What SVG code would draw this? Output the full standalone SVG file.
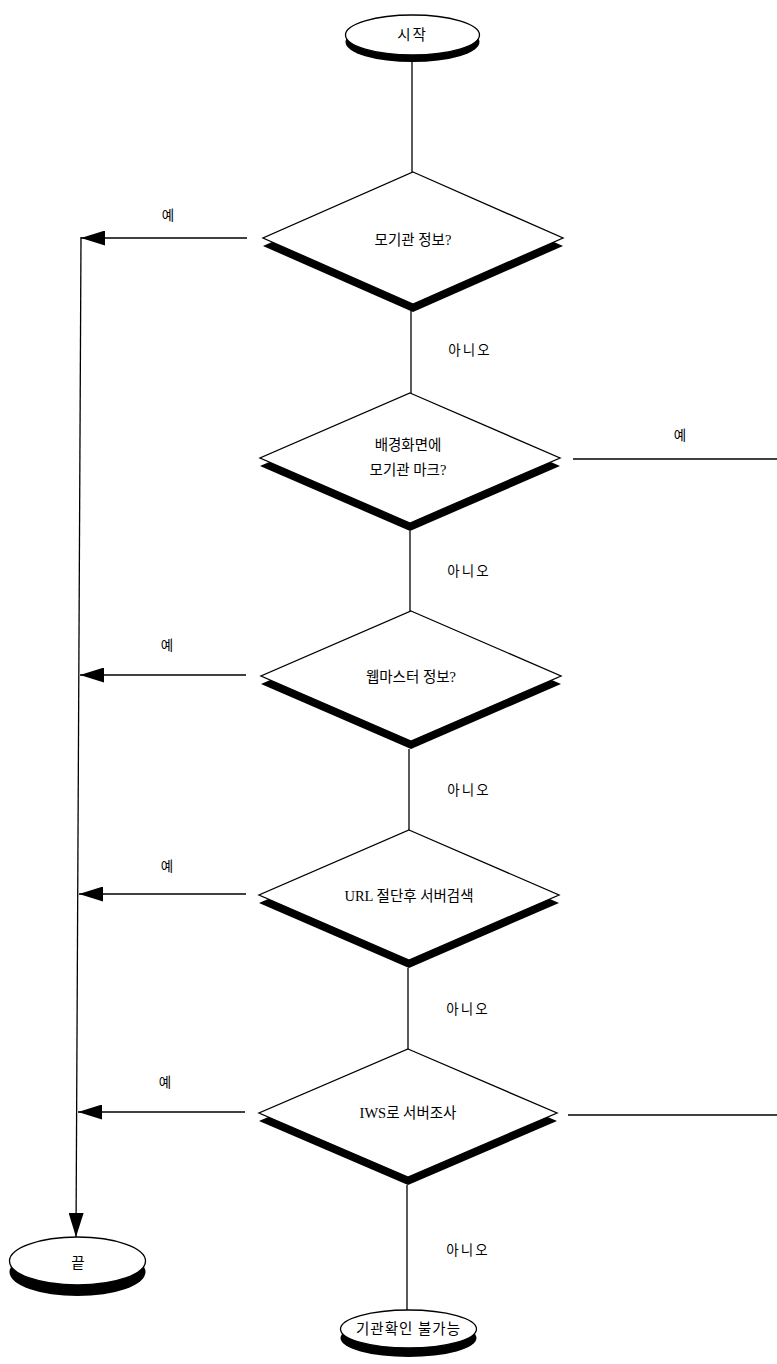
<svg xmlns="http://www.w3.org/2000/svg" width="777" height="1364" viewBox="0 0 777 1364">
<defs>
<style>
.shape{fill:#fff;stroke:#000;stroke-width:1.3}
.shadow{fill:#000;stroke:none}
.line{fill:none;stroke:#000;stroke-width:1.3}
.t{font-family:"Liberation Serif","Noto Sans CJK KR",serif;font-size:14.5px;fill:#000;text-anchor:middle;dominant-baseline:central}
.lab{font-family:"Liberation Serif","Noto Sans CJK KR",serif;font-size:13.5px;fill:#000;text-anchor:middle;dominant-baseline:central;letter-spacing:2px}
</style>
<marker id="ah" markerWidth="24" markerHeight="15" refX="24" refY="7.5" orient="auto" markerUnits="userSpaceOnUse">
<path d="M0,0 L24,7.5 L0,15 Z" fill="#000"/>
</marker>
</defs>
<rect width="777" height="1364" fill="#fff"/>
<g id="connectors">
<line class="line" x1="412" y1="62" x2="412" y2="172"/>
<line class="line" x1="411" y1="310" x2="411" y2="393"/>
<line class="line" x1="410" y1="531" x2="410" y2="611"/>
<line class="line" x1="409" y1="749" x2="409" y2="830"/>
<line class="line" x1="408" y1="968" x2="408" y2="1049"/>
<line class="line" x1="407" y1="1185" x2="407" y2="1310"/>
<line class="line" x1="247" y1="238" x2="81" y2="238" marker-end="url(#ah)"/>
<line class="line" x1="246" y1="675" x2="80" y2="675" marker-end="url(#ah)"/>
<line class="line" x1="246" y1="894" x2="79" y2="894" marker-end="url(#ah)"/>
<line class="line" x1="245" y1="1112" x2="78" y2="1112" marker-end="url(#ah)"/>
<line class="line" x1="81" y1="237" x2="76" y2="1237" marker-end="url(#ah)"/>
<line class="line" x1="573" y1="459" x2="777" y2="459"/>
<line class="line" x1="568" y1="1115" x2="777" y2="1115"/>
<text class="lab" x="169" y="215">예</text>
<text class="lab" x="168" y="645">예</text>
<text class="lab" x="168" y="866">예</text>
<text class="lab" x="166" y="1082">예</text>
<text class="lab" x="681" y="435">예</text>
<text class="lab" x="470" y="350">아니오</text>
<text class="lab" x="469" y="571">아니오</text>
<text class="lab" x="469" y="790">아니오</text>
<text class="lab" x="468" y="1009">아니오</text>
<text class="lab" x="468" y="1250">아니오</text>
</g>
<g id="start">
<ellipse class="shadow" cx="412.5" cy="42" rx="67" ry="20"/>
<ellipse class="shape" cx="412.5" cy="35" rx="67" ry="20"/>
<text class="t" x="412.5" y="35" style="letter-spacing:2px">시작</text>
</g>
<g id="d1">
<polygon class="shadow" points="413,180 563,246 413,312 263,246"/>
<polygon class="shape" points="413,172 563,238 413,304 263,238"/>
<text class="t" x="413" y="240">모기관 정보?</text>
</g>
<g id="d2">
<polygon class="shadow" points="410,401 560,466 410,531 260,466"/>
<polygon class="shape" points="410,393 560,458 410,523 260,458"/>
<text class="t" x="408" y="445">배경화면에</text>
<text class="t" x="408" y="470">모기관 마크?</text>
</g>
<g id="d3">
<polygon class="shadow" points="411,619 561,684 411,749 261,684"/>
<polygon class="shape" points="411,611 561,676 411,741 261,676"/>
<text class="t" x="411" y="677">웹마스터 정보?</text>
</g>
<g id="d4">
<polygon class="shadow" points="409,838 559,903 409,968 259,903"/>
<polygon class="shape" points="409,830 559,895 409,960 259,895"/>
<text class="t" x="409" y="896">URL 절단후 서버검색</text>
</g>
<g id="d5">
<polygon class="shadow" points="408,1057 557,1121 408,1185 259,1121"/>
<polygon class="shape" points="408,1049 557,1113 408,1177 259,1113"/>
<text class="t" x="408" y="1113">IWS로 서버조사</text>
</g>
<g id="end">
<ellipse class="shadow" cx="77.5" cy="1272" rx="68" ry="24"/>
<ellipse class="shape" cx="77.5" cy="1261" rx="68" ry="24"/>
<text class="t" x="78" y="1263">끝</text>
</g>
<g id="fail">
<ellipse class="shadow" cx="408.5" cy="1338" rx="68" ry="19"/>
<ellipse class="shape" cx="408.5" cy="1329" rx="68" ry="19"/>
<text class="t" x="408.5" y="1329" style="letter-spacing:1px">기관확인 불가능</text>
</g>
</svg>
